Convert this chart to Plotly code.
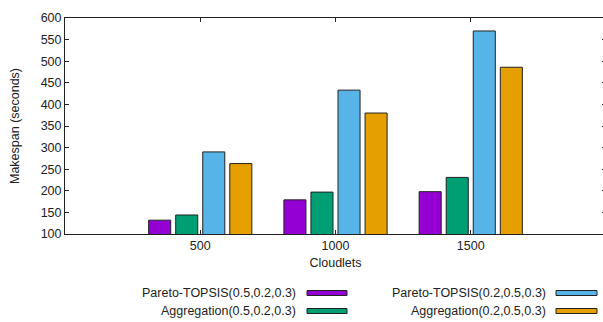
import plotly.graph_objects as go

categories = ["500", "1000", "1500"]
series_names = [
    "Pareto-TOPSIS(0.5,0.2,0.3)",
    "Aggregation(0.5,0.2,0.3)",
    "Pareto-TOPSIS(0.2,0.5,0.3)",
    "Aggregation(0.2,0.5,0.3)",
]
pareto_052 = [132, 179, 198]
aggregation_052 = [144, 197, 231]
pareto_025 = [290, 433, 570]
aggregation_025 = [263, 380, 486]
y_ticks = list(range(100, 601, 50))

values = [pareto_052, aggregation_052, pareto_025, aggregation_025]
colors = ["#9400D3", "#009E73", "#56B4E9", "#E69F00"]

FONT = "Liberation Sans, Arial, sans-serif"
FS = 12.5
W, H = 606, 322

fig = go.Figure()
for name, vals, col in zip(series_names, values, colors):
    fig.add_trace(go.Bar(
        x=categories, y=vals, name=name,
        marker=dict(color=col, line=dict(color="#222222", width=1)),
        showlegend=False, hoverinfo="skip",
    ))

plot_l, plot_w = 65, W - 65
def px_to_paper_x(px):
    return (px - plot_l) / plot_w
def px_to_paper_y(py):
    return (234 - py) / 216

# Manual legend (gnuplot style: text right-aligned, key sample to the right)
rows = [293, 311, 293, 311]
text_right = [298, 298, 548, 548]
key_x0 = [307, 307, 556, 556]
key_x1 = [347, 347, 597, 597]
for i, name in enumerate(series_names):
    fig.add_annotation(
        x=px_to_paper_x(text_right[i]), y=px_to_paper_y(rows[i]),
        xref="paper", yref="paper", text=name, showarrow=False,
        xanchor="right", yanchor="middle",
        font=dict(family=FONT, size=FS, color="#222222"),
    )
    fig.add_shape(
        type="rect", xref="paper", yref="paper",
        x0=px_to_paper_x(key_x0[i]), x1=px_to_paper_x(key_x1[i]),
        y0=px_to_paper_y(rows[i] + 2.5), y1=px_to_paper_y(rows[i] - 2.5),
        fillcolor=colors[i], line=dict(color="#222222", width=1),
    )

fig.update_layout(
    width=W, height=H,
    margin=dict(l=65, r=0, t=18, b=88),
    paper_bgcolor="white", plot_bgcolor="white",
    barmode="group", bargap=0.2, bargroupgap=0.185,
    font=dict(family=FONT, size=FS, color="#222222"),
)
fig.update_xaxes(
    type="category", range=[-1, 3], automargin=False,
    showline=True, linecolor="#222222", linewidth=1, mirror="ticks",
    ticks="inside", ticklen=4, tickcolor="#222222",
    showgrid=False, zeroline=False,
    title=dict(text="Cloudlets", font=dict(size=FS), standoff=6),
    tickfont=dict(size=FS),
)
fig.update_yaxes(
    range=[100, 600], tickvals=y_ticks, automargin=False,
    showline=True, linecolor="#222222", linewidth=1, mirror="ticks",
    ticks="inside", ticklen=4, tickcolor="#222222",
    showgrid=False, zeroline=False,
    title=dict(text="Makespan (seconds)", font=dict(size=FS), standoff=18),
    tickfont=dict(size=FS),
)

fig.write_html(
    "out.html",
    config={"displayModeBar": False},
    post_script=(
        "document.body.style.margin='0';document.body.style.padding='0';"
        "document.body.style.overflow='hidden';"
        "document.documentElement.style.overflow='hidden';"
    ),
)
